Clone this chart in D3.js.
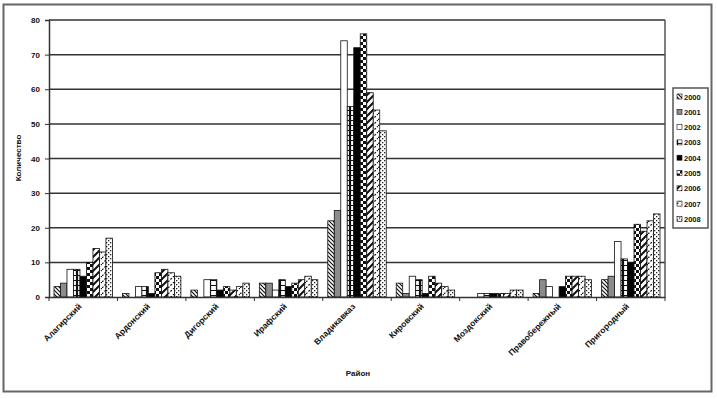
<!DOCTYPE html>
<html>
<head>
<meta charset="utf-8">
<script src="https://cdn.jsdelivr.net/npm/d3@7"></script>
<style>
  body { margin: 0; background: #fff; }
  text { font-family: "Liberation Sans", Arial, sans-serif; font-weight: bold; fill: #111; }
</style>
</head>
<body>
<div id="chart"></div>
<script>
const categories = ["Алагирский", "Ардонский", "Дигорский", "Ирафский", "Владикавказ",
  "Кировский", "Моздокский", "Правобережный", "Пригородный"];
const years = ["2000", "2001", "2002", "2003", "2004", "2005", "2006", "2007", "2008"];
const s2000 = [3, 1, 2, 4, 22, 4, 0, 1, 5];
const s2001 = [4, 0, 0, 4, 25, 1, 0, 5, 6];
const s2002 = [8, 3, 5, 2, 74, 6, 1, 3, 16];
const s2003 = [8, 3, 5, 5, 55, 5, 1, 0, 11];
const s2004 = [6, 1, 2, 3, 72, 1, 1, 3, 10];
const s2005 = [10, 7, 3, 4, 76, 6, 1, 6, 21];
const s2006 = [14, 8, 2, 5, 59, 4, 1, 6, 19];
const s2007 = [13, 7, 3, 6, 54, 3, 2, 6, 22];
const s2008 = [17, 6, 4, 5, 48, 2, 2, 5, 24];
const yTicks = [0, 10, 20, 30, 40, 50, 60, 70, 80];

const series = [s2000, s2001, s2002, s2003, s2004, s2005, s2006, s2007, s2008];

const W = 717, H = 399;
const plot = { left: 49, right: 665, top: 20, bottom: 297 };

const svg = d3.select("#chart").append("svg")
  .attr("width", W).attr("height", H);

svg.append("rect").attr("width", W).attr("height", H).attr("fill", "#fff");

// patterns for the series fills
const defs = svg.append("defs");
function pat(id, w, h, draw) {
  const p = defs.append("pattern").attr("id", id)
    .attr("patternUnits", "userSpaceOnUse").attr("width", w).attr("height", h);
  p.append("rect").attr("width", w).attr("height", h).attr("fill", "#fff");
  draw(p);
}
pat("p0", 4, 4, p => p.append("path").attr("d", "M-1,-1 L5,5 M-1,3 L1,5 M3,-1 L5,1")
  .attr("stroke", "#111").attr("stroke-width", 1.2));
pat("p1", 4, 4, p => p.append("rect").attr("width", 4).attr("height", 4).attr("fill", "#8c8c8c"));
pat("p2", 4, 4, p => {});
pat("p3", 7, 5, p => {
  p.append("path").attr("d", "M0,0.5 H7 M0.5,0 V5 M6.5,0 V5").attr("stroke", "#111").attr("stroke-width", 1.2);
});
pat("p4", 4, 4, p => p.append("rect").attr("width", 4).attr("height", 4).attr("fill", "#000"));
pat("p5", 6, 6, p => {
  p.append("rect").attr("width", 3).attr("height", 3).attr("fill", "#111");
  p.append("rect").attr("x", 3).attr("y", 3).attr("width", 3).attr("height", 3).attr("fill", "#111");
});
pat("p6", 7, 7, p => p.append("path").attr("d", "M-1,8 L8,-1 M-1,1 L1,-1 M6,8 L8,6")
  .attr("stroke", "#111").attr("stroke-width", 2));
pat("p7", 6, 6, p => p.append("path").attr("d", "M0,6 L6,0").attr("stroke", "#111")
  .attr("stroke-width", 1.2).attr("stroke-dasharray", "2,1.5"));
pat("p8", 4, 4, p => {
  p.append("rect").attr("x", 0).attr("y", 0).attr("width", 1.3).attr("height", 1.3).attr("fill", "#222");
  p.append("rect").attr("x", 2).attr("y", 2).attr("width", 1.3).attr("height", 1.3).attr("fill", "#222");
});

// outer border
svg.append("rect").attr("x", 3.5).attr("y", 4.5).attr("width", 708).attr("height", 387)
  .attr("fill", "none").attr("stroke", "#666").attr("stroke-width", 2);

const x = d3.scaleBand().domain(categories).range([plot.left, plot.right]);
const xIn = d3.scaleBand().domain(years).range([5, x.bandwidth() - 5]);
const y = d3.scaleLinear().domain([0, 80]).range([plot.bottom, plot.top]);

// grid
svg.append("g").selectAll("line").data(yTicks.slice(1)).join("line")
  .attr("x1", plot.left).attr("x2", plot.right)
  .attr("y1", d => y(d)).attr("y2", d => y(d))
  .attr("stroke", "#333").attr("stroke-width", 1.5);

// right border of plot area
svg.append("line").attr("x1", plot.right).attr("x2", plot.right)
  .attr("y1", plot.top).attr("y2", plot.bottom).attr("stroke", "#555").attr("stroke-width", 1.5);

// bars
const groups = svg.append("g").selectAll("g").data(series).join("g")
  .attr("fill", (d, i) => `url(#p${i})`);
groups.each(function (vals, si) {
  const pts = vals.map((v, ci) => ({ v, cat: categories[ci] })).filter(d => d.v > 0);
  d3.select(this).selectAll("rect").data(pts).join("rect")
    .attr("x", d => x(d.cat) + xIn(years[si]))
    .attr("y", d => y(d.v))
    .attr("width", xIn.bandwidth())
    .attr("height", d => y(0) - y(d.v))
    .attr("stroke", "#111").attr("stroke-width", 0.8);
});

// axes
const yAxis = svg.append("g").attr("transform", `translate(${plot.left},0)`)
  .call(d3.axisLeft(y).tickValues(yTicks).tickSize(4).tickPadding(5));
yAxis.select(".domain").attr("stroke", "#333").attr("stroke-width", 1.5);
yAxis.selectAll("line").attr("stroke", "#333");
yAxis.selectAll("text").style("font-size", "8px").attr("font-family", null);

const xAxis = svg.append("g").attr("transform", `translate(0,${plot.bottom})`)
  .call(d3.axisBottom(x).tickSize(0).tickFormat(""));
xAxis.select(".domain").attr("stroke", "#333").attr("stroke-width", 1.5);
svg.append("g").selectAll("line").data(d3.range(categories.length + 1)).join("line")
  .attr("x1", i => plot.left + i * x.step()).attr("x2", i => plot.left + i * x.step())
  .attr("y1", plot.bottom).attr("y2", plot.bottom + 4).attr("stroke", "#333");

svg.append("g").selectAll("text").data(categories).join("text")
  .attr("transform", d => `translate(${x(d) + x.bandwidth() / 2 - 1},${plot.bottom + 10}) rotate(-45)`)
  .attr("text-anchor", "end")
  .style("font-size", "8.5px")
  .text(d => d);

// titles
svg.append("text").attr("x", 358).attr("y", 376).attr("text-anchor", "middle")
  .style("font-size", "8px").text("Район");
svg.append("text").attr("transform", "translate(21,158) rotate(-90)").attr("text-anchor", "middle")
  .style("font-size", "8px").text("Количество");

// legend
const legend = svg.append("g").attr("transform", "translate(673,88)");
legend.append("rect").attr("width", 35).attr("height", 140)
  .attr("fill", "#fff").attr("stroke", "#555").attr("stroke-width", 1.5);
const li = legend.selectAll("g").data(years).join("g")
  .attr("transform", (d, i) => `translate(4,${9 + i * 15.3})`);
li.append("rect").attr("y", -3).attr("width", 5).attr("height", 5)
  .attr("fill", (d, i) => `url(#p${i})`).attr("stroke", "#111").attr("stroke-width", 0.6);
li.append("text").attr("x", 7).attr("y", 2.5).style("font-size", "7.5px").text(d => d);
</script>
</body>
</html>
